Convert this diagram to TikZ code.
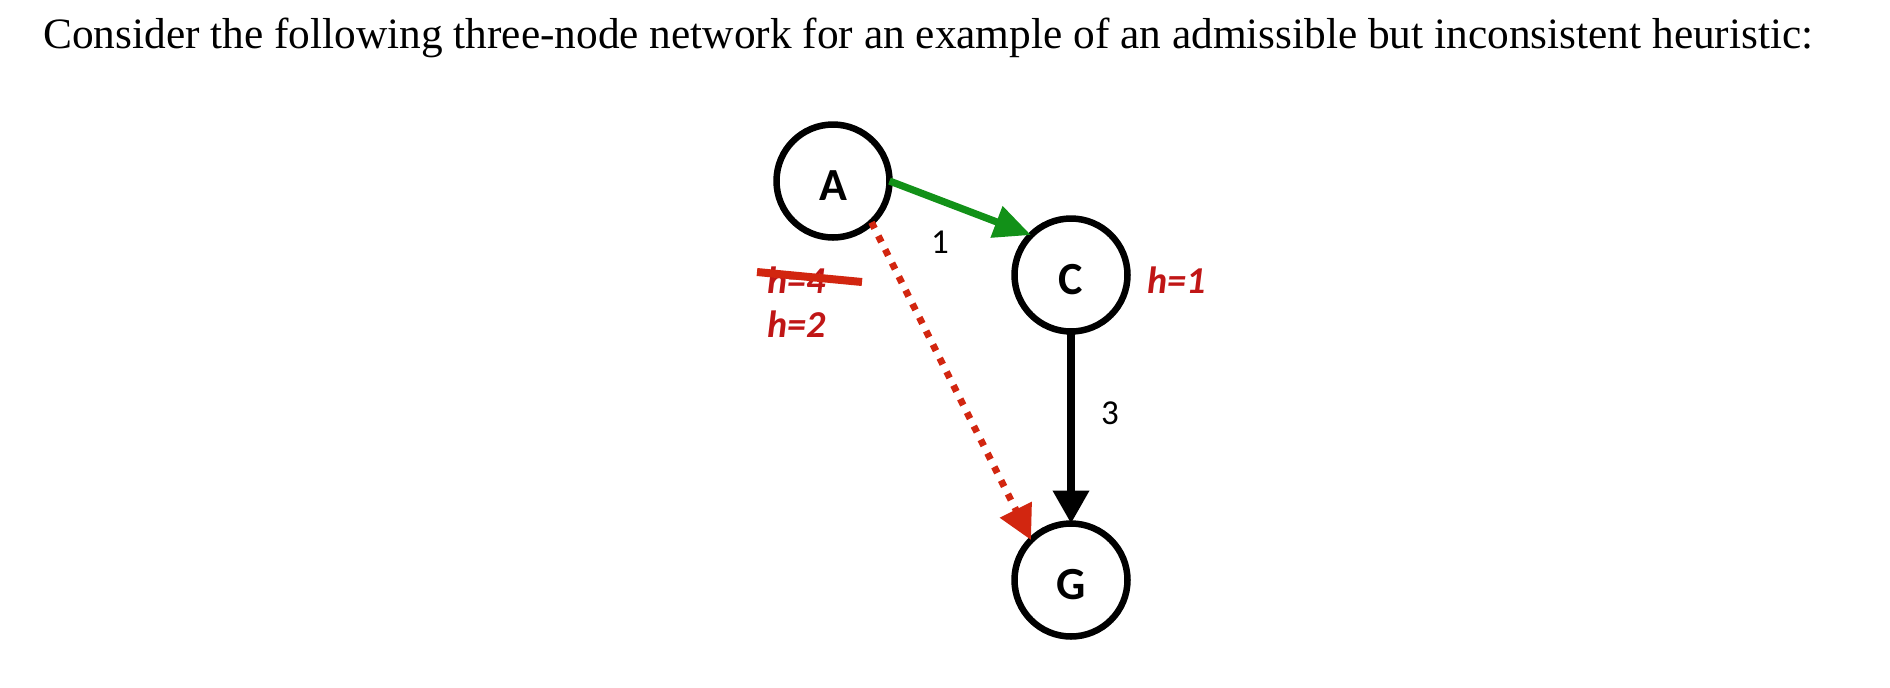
\documentclass[tikz,border=0pt]{standalone}
\usepackage{graphicx}
\usepackage{fontspec}
\setmainfont{Liberation Serif}
\newfontfamily\calib{Carlito}
\usetikzlibrary{arrows.meta}
\definecolor{hred}{RGB}{192,22,22}
\definecolor{dred}{RGB}{210,38,16}
\definecolor{egreen}{RGB}{18,145,24}
\begin{document}
\begin{tikzpicture}[x=0.5pt,y=-0.5pt,
  circ/.style={circle, draw, line width=3.25pt, minimum size=56.5pt, inner sep=0pt, outer sep=0pt},
  nlbl/.style={font=\calib\bfseries\fontsize{23pt}{27pt}\selectfont, yshift=-2.5pt},
  hlbl/.style={font=\calib\bfseries\itshape\fontsize{19pt}{23pt}\selectfont, text=hred, inner sep=0pt, anchor=base},
  elbl/.style={font=\calib\fontsize{17.5pt}{20pt}\selectfont, inner sep=0pt},
  thick edge/.style={line width=3.6pt}]
\useasboundingbox (0,0) rectangle (1890,687);
\node[anchor=base west, inner sep=0pt] (title) at (43,48)
  {\resizebox{885pt}{!}{\fontsize{22.5pt}{27pt}\selectfont Consider the following three-node network for an example of an admissible but inconsistent heuristic:}};
\node[circ, label={[nlbl]center:A}] (A) at (833,181) {};
\node[circ, label={[nlbl]center:C}] (C) at (1071,275) {};
\node[circ, label={[nlbl]center:G}] (G) at (1071,580) {};
\draw[thick edge, egreen, -{Triangle[length=18.5pt,width=16pt]}] (A.east) -- (C.135);
\draw[thick edge, black, -{Triangle[length=16.5pt,width=17.5pt]}] (C.south) -- (G.north);
\draw[line width=3.4pt, dred, dash pattern=on 3.4pt off 4.2pt, -{Triangle[length=17pt,width=17pt]}] (A.-47) -- (G.135);
\node[elbl] (w1) at (940,242) {1};
\node[elbl] (w3) at (1110,413) {3};
\node[hlbl] (h1) at (1177,293) {h=1};
\node[hlbl] (h4) at (797,293) {h=4};
\node[hlbl] (h2) at (797,337) {h=2};
\draw[dred, line width=4pt] (757,272) -- (862,282);
\end{tikzpicture}
\end{document}
